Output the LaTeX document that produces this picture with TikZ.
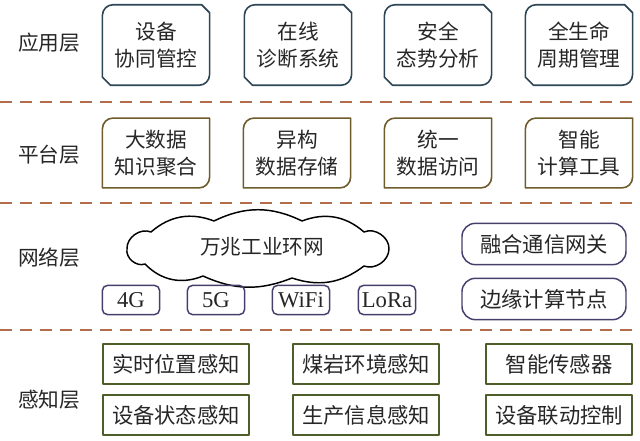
\documentclass[tikz,border=0pt]{standalone}
\usepackage{fontspec}
\setmainfont{Liberation Serif}
\newfontfamily\cjk{Noto Sans CJK SC}
\definecolor{appc}{RGB}{45,70,86}
\definecolor{platc}{RGB}{110,92,45}
\definecolor{netc}{RGB}{72,62,108}
\definecolor{sensc}{RGB}{78,94,42}
\definecolor{sepc}{RGB}{178,110,75}
\begin{document}
\begin{tikzpicture}[x=0.75pt, y=-0.75pt, font=\cjk\fontsize{15.5}{20}\selectfont, line join=round,
		sepline/.style={sepc, line width=1.3pt, dash pattern=on 9pt off 6pt},
		layer/.style={text=black!85},
		appbox/.style={minimum width=80pt, minimum height=60pt, align=center, text=black!85},
		platbox/.style={minimum width=80pt, minimum height=52pt, align=center, text=black!85},
		netbox/.style={draw=netc, line width=1.1pt, rounded corners=4pt, minimum width=43pt, minimum height=22pt, inner sep=2pt, font=\fontsize{17}{20}\selectfont, text=black!85},
		gatebox/.style={draw=netc, line width=1.1pt, rounded corners=10pt, minimum width=123pt, minimum height=31pt, text=black!85},
		sensbox/.style={draw=sensc, line width=1.3pt, minimum width=110pt, minimum height=30pt, font=\cjk\fontsize{16}{20}\selectfont, text=black!85}]
	\useasboundingbox (0,0) rectangle (640,441);
	% layer separators
	\draw[sepline] (0,102) -- (640,102);
	\draw[sepline] (0,203) -- (640,203);
	\draw[sepline] (0,330) -- (640,330);
	% layer names
	\node[layer] (lapp) at (49,43) {应用层};
	\node[layer] (lplat) at (49,155) {平台层};
	\node[layer] (lnet) at (49,258) {网络层};
	\node[layer] (lsens) at (49,400) {感知层};
	% application layer
	\node[appbox] (devctl) at (156,45) {设备\\协同管控};
	\node[appbox] (diag) at (298,45) {在线\\诊断系统};
	\node[appbox] (safety) at (438,45) {安全\\态势分析};
	\node[appbox] (life) at (579,45) {全生命\\周期管理};
	\foreach \n in {devctl,diag,safety,life}
		\draw[appc, line width=1.2pt] ([yshift=-8pt]\n.north west) arc[start angle=180, end angle=90, radius=8pt] -- ([xshift=-6pt]\n.north east) -- ([yshift=-6pt]\n.north east) -- ([yshift=8pt]\n.south east) arc[start angle=0, end angle=-90, radius=8pt] -- ([xshift=6pt]\n.south west) -- ([yshift=6pt]\n.south west) -- cycle;
	% platform layer
	\node[platbox] (bigdata) at (156,153) {大数据\\知识聚合};
	\node[platbox] (store) at (297,153) {异构\\数据存储};
	\node[platbox] (access) at (438,153) {统一\\数据访问};
	\node[platbox] (tools) at (579,153) {智能\\计算工具};
	\foreach \n in {bigdata,store,access,tools}
		\draw[platc, line width=1.2pt] ([yshift=-8pt]\n.north west) arc[start angle=180, end angle=90, radius=8pt] -- (\n.north east) -- ([yshift=8pt]\n.south east) arc[start angle=0, end angle=-90, radius=8pt] -- (\n.south west) -- cycle;
	% network layer
	\draw[line width=1.1pt] (127,249) to[bend left=58] (151,232) to[bend left=31] (214,221) to[bend left=26] (302,221) to[bend left=31] (364,232) to[bend left=58] (389,249) to[bend left=55] (364,266) to[bend left=28] (292,278) to[bend left=23] (203,276) to[bend left=34] (145,264) to[bend left=60] cycle;
	\node[text=black!85] (ring) at (262,247) {万兆工业环网};
	\node[netbox] (g4) at (131,300) {4G};
	\node[netbox] (g5) at (216,300) {5G};
	\node[netbox] (wifi) at (301,300) {WiFi};
	\node[netbox] (lora) at (387,300) {LoRa};
	\node[gatebox, font=\cjk\fontsize{16}{20}\selectfont] (gateway) at (544,244) {融合通信网关};
	\node[gatebox, font=\cjk\fontsize{16}{20}\selectfont] (edge) at (544,299) {边缘计算节点};
	% perception layer
	\node[sensbox] (pos) at (176,364) {实时位置感知};
	\node[sensbox] (env) at (366,364) {煤岩环境感知};
	\node[sensbox] (sensor) at (559,364) {智能传感器};
	\node[sensbox] (state) at (176,415) {设备状态感知};
	\node[sensbox] (prod) at (366,415) {生产信息感知};
	\node[sensbox] (link) at (559,415) {设备联动控制};
\end{tikzpicture}
\end{document}
